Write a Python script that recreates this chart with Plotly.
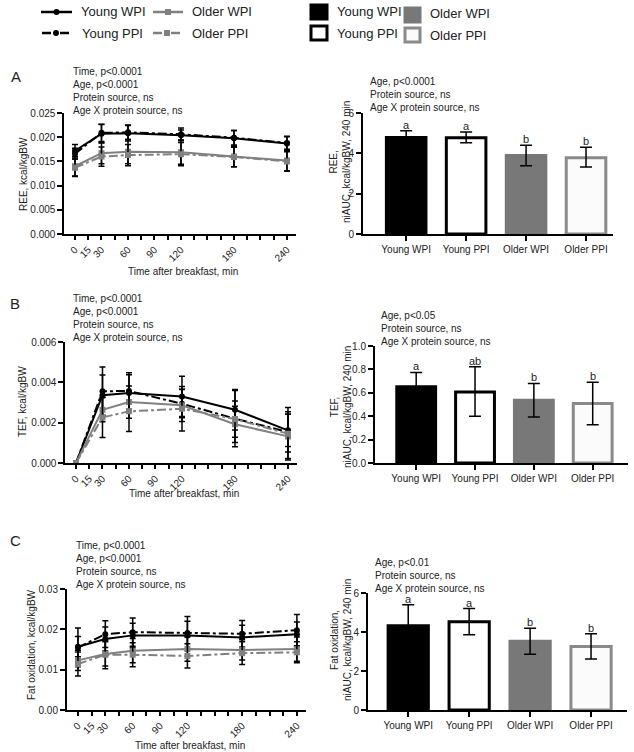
import plotly.graph_objects as go

W, H = 634, 752
FONT = "Liberation Sans, Arial, sans-serif"
TXT = "#222222"

# ---------------- data ----------------
times = [0, 30, 60, 120, 180, 240]
time_ticks = [0, 15, 30, 45, 60, 75, 90, 105, 120, 135, 150, 165, 180, 195, 210, 225, 240]
time_labels = ["0", "15", "30", "", "60", "", "90", "", "120", "", "", "", "180", "", "", "", "240"]

groups = ["Young WPI", "Young PPI", "Older WPI", "Older PPI"]

# Panel A: REE, kcal/kgBW
ree_young_wpi = [0.0172, 0.0207, 0.0208, 0.0204, 0.0198, 0.0187]
ree_young_ppi = [0.0166, 0.0209, 0.0210, 0.0206, 0.0199, 0.0188]
ree_older_wpi = [0.0140, 0.0167, 0.0170, 0.0169, 0.0160, 0.0152]
ree_older_ppi = [0.0137, 0.0160, 0.0163, 0.0165, 0.0159, 0.0150]
ree_err_young_wpi = [0.0013, 0.0019, 0.0016, 0.0011, 0.0016, 0.0015]
ree_err_young_ppi = [0.0011, 0.0018, 0.0015, 0.0013, 0.0015, 0.0013]
ree_err_older_wpi = [0.0020, 0.0022, 0.0025, 0.0025, 0.0021, 0.0022]
ree_err_older_ppi = [0.0018, 0.0020, 0.0022, 0.0024, 0.0020, 0.0020]
ree_auc = [4.79, 4.77, 3.89, 3.78]
ree_auc_hi = [5.12, 5.06, 4.40, 4.30]
ree_auc_lo = [4.46, 4.52, 3.39, 3.32]
ree_letters = ["a", "a", "b", "b"]

# Panel B: TEF, kcal/kgBW
tef_young_wpi = [0.0, 0.00336, 0.00347, 0.00330, 0.00264, 0.00162]
tef_young_ppi = [0.0, 0.00356, 0.00357, 0.00294, 0.00220, 0.00154]
tef_older_wpi = [0.0, 0.00264, 0.00302, 0.00286, 0.00192, 0.00132]
tef_older_ppi = [0.0, 0.00226, 0.00256, 0.00269, 0.00218, 0.00145]
tef_err_young_wpi = [0.0, 0.0010, 0.0009, 0.0010, 0.0010, 0.0008]
tef_err_young_ppi = [0.0, 0.0012, 0.0009, 0.0007, 0.0014, 0.0010]
tef_err_older_wpi = [0.0, 0.0006, 0.0008, 0.0008, 0.0009, 0.0011]
tef_err_older_ppi = [0.0, 0.0010, 0.0010, 0.0011, 0.0009, 0.0013]
tef_auc = [0.651, 0.606, 0.537, 0.509]
tef_auc_hi = [0.774, 0.823, 0.680, 0.691]
tef_auc_lo = [0.528, 0.400, 0.394, 0.326]
tef_letters = ["a", "ab", "b", "b"]

# Panel C: Fat oxidation, kcal/kgBW
fat_young_wpi = [0.0157, 0.0176, 0.0185, 0.0185, 0.0180, 0.0188]
fat_young_ppi = [0.0155, 0.0188, 0.0193, 0.0191, 0.0189, 0.0198]
fat_older_wpi = [0.0123, 0.0139, 0.0147, 0.0151, 0.0149, 0.0151]
fat_older_ppi = [0.0114, 0.0137, 0.0137, 0.0134, 0.0141, 0.0143]
fat_err_young_wpi = [0.0025, 0.0030, 0.0030, 0.0035, 0.0030, 0.0030]
fat_err_young_ppi = [0.0048, 0.0033, 0.0035, 0.0041, 0.0033, 0.0039]
fat_err_older_wpi = [0.0025, 0.0030, 0.0030, 0.0030, 0.0025, 0.0030]
fat_err_older_ppi = [0.0030, 0.0035, 0.0030, 0.0030, 0.0028, 0.0026]
fat_auc = [4.32, 4.53, 3.52, 3.26]
fat_auc_hi = [5.40, 5.20, 4.19, 3.91]
fat_auc_lo = [3.24, 3.86, 2.86, 2.61]
fat_letters = ["a", "a", "b", "b"]

# ---------------- styling ----------------
BLACK = "#000000"
GRAY = "#808080"
line_styles = [
    dict(color=BLACK, dash="solid", symbol="circle"),
    dict(color=BLACK, dash="dashdot", symbol="circle"),
    dict(color=GRAY, dash="solid", symbol="square"),
    dict(color=GRAY, dash="dashdot", symbol="square"),
]
bar_fill = ["#000000", "#ffffff", "#787878", "#fbfbfb"]
bar_line = ["#000000", "#000000", "#787878", "#8a8a8a"]


def fx(px):
    return px / W


def fy(py):
    return 1 - py / H


fig = go.Figure()


def add_line_panel(idx, series, errs):
    for k, (ys, es) in enumerate(zip(series, errs)):
        st = line_styles[k]
        fig.add_trace(go.Scatter(
            x=times, y=ys, mode="lines+markers",
            line=dict(color=st["color"], dash=st["dash"], width=2),
            marker=dict(symbol=st["symbol"], size=6, color=st["color"]),
            error_y=dict(type="data", array=es, visible=True, color=BLACK,
                         thickness=1.5, width=3),
            xaxis=f"x{idx}", yaxis=f"y{idx}", showlegend=False,
            name=groups[k],
        ))


def add_bar_panel(idx, vals, hi, lo, letters):
    xs = list(range(len(groups)))
    fig.add_trace(go.Bar(
        x=xs, y=vals, width=0.66,
        marker=dict(color=bar_fill, line=dict(color=bar_line, width=3)),
        error_y=dict(type="data", symmetric=False,
                     array=[h - v for h, v in zip(hi, vals)],
                     arrayminus=[v - l for v, l in zip(vals, lo)],
                     color=BLACK, thickness=1.5, width=6),
        xaxis=f"x{idx}", yaxis=f"y{idx}", showlegend=False,
    ))
    for i, (h, t) in enumerate(zip(hi, letters)):
        fig.add_annotation(x=xs[i], y=h, xref=f"x{idx}", yref=f"y{idx}",
                           text=t, showarrow=False, yanchor="bottom", yshift=-2,
                           font=dict(size=11, color=TXT, family=FONT))


add_line_panel(1, [ree_young_wpi, ree_young_ppi, ree_older_wpi, ree_older_ppi],
               [ree_err_young_wpi, ree_err_young_ppi, ree_err_older_wpi, ree_err_older_ppi])
add_bar_panel(2, ree_auc, ree_auc_hi, ree_auc_lo, ree_letters)
add_line_panel(3, [tef_young_wpi, tef_young_ppi, tef_older_wpi, tef_older_ppi],
               [tef_err_young_wpi, tef_err_young_ppi, tef_err_older_wpi, tef_err_older_ppi])
add_bar_panel(4, tef_auc, tef_auc_hi, tef_auc_lo, tef_letters)
add_line_panel(5, [fat_young_wpi, fat_young_ppi, fat_older_wpi, fat_older_ppi],
               [fat_err_young_wpi, fat_err_young_ppi, fat_err_older_wpi, fat_err_older_ppi])
add_bar_panel(6, fat_auc, fat_auc_hi, fat_auc_lo, fat_letters)

axis_common = dict(showline=True, linewidth=2, linecolor=BLACK, ticks="outside",
                   ticklen=5, tickwidth=1.5, tickcolor=BLACK, showgrid=False,
                   zeroline=False, automargin=False,
                   tickfont=dict(size=10, color=TXT, family=FONT))


def line_xaxis(px0, px1, anchor):
    return dict(axis_common, domain=[fx(px0), fx(px1)], range=[-12, 250],
                tickvals=time_ticks, ticktext=time_labels, tickangle=-45,
                ticklen=4, anchor=anchor)


def bar_xaxis(px0, px1, rng, anchor):
    return dict(axis_common, domain=[fx(px0), fx(px1)], range=rng,
                tickvals=list(range(len(groups))), ticktext=groups, anchor=anchor)


def yaxis(py0, py1, rng, dtick, fmt, anchor):
    return dict(axis_common, domain=[fy(py1), fy(py0)], range=rng, dtick=dtick,
                tickformat=fmt, anchor=anchor)


layout = dict(
    width=W, height=H, margin=dict(l=0, r=0, t=0, b=0, pad=0),
    paper_bgcolor="white", plot_bgcolor="white",
    font=dict(family=FONT, color=TXT),
    xaxis=line_xaxis(64.4, 295.8, "y"),
    yaxis=yaxis(113, 234, [0, 0.025], 0.005, ".3f", "x"),
    xaxis2=bar_xaxis(363, 613, [-0.72, 3.45], "y2"),
    yaxis2=yaxis(113, 234, [0, 6], 2, "d", "x2"),
    xaxis3=line_xaxis(65.4, 296.8, "y3"),
    yaxis3=yaxis(342, 463, [0, 0.006], 0.002, ".3f", "x3"),
    xaxis4=bar_xaxis(375, 628, [-0.70, 3.6], "y4"),
    yaxis4=yaxis(346, 463, [0, 1.0], 0.2, ".1f", "x4"),
    xaxis5=line_xaxis(67, 306, "y5"),
    yaxis5=yaxis(589, 710, [0, 0.03], 0.01, ".2f", "x5"),
    xaxis6=bar_xaxis(368, 627, [-0.66, 3.59], "y6"),
    yaxis6=yaxis(593, 710, [0, 6], 2, "d", "x6"),
)
fig.update_layout(**layout)


def ann(px, py, text, size=10, xanchor="left", yanchor="middle", angle=0, align="left"):
    fig.add_annotation(x=fx(px), y=fy(py), xref="paper", yref="paper", text=text,
                       showarrow=False, xanchor=xanchor, yanchor=yanchor,
                       textangle=angle, align=align,
                       font=dict(size=size, color=TXT, family=FONT))


stat4 = "Time, p<0.0001<br>Age, p<0.0001<br>Protein source, ns<br>Age X protein source, ns"
ann(71, 91, stat4)
ann(71, 318, stat4)
ann(74, 565, stat4)
ann(368, 95, "Age, p<0.0001<br>Protein source, ns<br>Age X protein source, ns")
ann(379, 328, "Age, p<0.05<br>Protein source, ns<br>Age X protein source, ns")
ann(373, 575, "Age, p<0.01<br>Protein source, ns<br>Age X protein source, ns")

# panel letters
ann(9, 76, "A", size=15)
ann(8, 303, "B", size=15)
ann(8, 540, "C", size=15)

# x titles
ann(183, 271, "Time after breakfast, min", xanchor="center")
ann(184, 493, "Time after breakfast, min", xanchor="center")
ann(190, 745, "Time after breakfast, min", xanchor="center")

# y titles
ann(23, 174, "REE, kcal/kgBW", xanchor="center", angle=-90, align="center")
ann(340, 162, "REE,<br>niAUC, kcal/kgBW, 240 min", xanchor="center", angle=-90, align="center")
ann(23, 402, "TEF, kcal/kgBW", xanchor="center", angle=-90, align="center")
ann(341, 407, "TEF,<br>niAUC, kcal/kgBW, 240 min", xanchor="center", angle=-90, align="center")
ann(31, 645, "Fat oxidation, kcal/kgBW", xanchor="center", angle=-90, align="center")
ann(341, 640, "Fat oxidation,<br>niAUC, kcal/kgBW, 240 min", xanchor="center", angle=-90, align="center")

# ---------------- legends (drawn in paper space) ----------------
leg_line_pos = [(41, 72, 12, 79), (42, 70, 33, 80), (153, 183, 12, 190), (153, 181, 33, 190)]
for k, (x0, x1, yy, tx) in enumerate(leg_line_pos):
    st = line_styles[k]
    fig.add_shape(type="line", xref="paper", yref="paper", x0=fx(x0), x1=fx(x1),
                  y0=fy(yy), y1=fy(yy),
                  line=dict(color=st["color"], width=2.5,
                            dash="dash" if st["dash"] != "solid" else "solid"))
    cx = (x0 + x1) / 2
    shape_type = "circle" if st["symbol"] == "circle" else "rect"
    fig.add_shape(type=shape_type, xref="paper", yref="paper",
                  x0=fx(cx - 3), x1=fx(cx + 3), y0=fy(yy + 3), y1=fy(yy - 3),
                  fillcolor=st["color"], line=dict(width=0))
    ann(tx, yy, groups[k], size=13)

leg_bar_pos = [(311, 327, 5, 19, 335, 12), (311, 327, 26, 40, 335, 33),
               (405, 420, 8, 22, 428, 14), (405, 420, 28, 42, 428, 35)]
for k, (x0, x1, y0, y1, tx, ty) in enumerate(leg_bar_pos):
    fig.add_shape(type="rect", xref="paper", yref="paper",
                  x0=fx(x0), x1=fx(x1), y0=fy(y1), y1=fy(y0),
                  fillcolor=bar_fill[k], line=dict(color=bar_line[k], width=3))
    ann(tx, ty, groups[k], size=13)

fig.write_html(
    "out.html",
    config={"displayModeBar": False},
    post_script="document.body.style.margin='0';document.body.style.overflow='hidden';",
)
